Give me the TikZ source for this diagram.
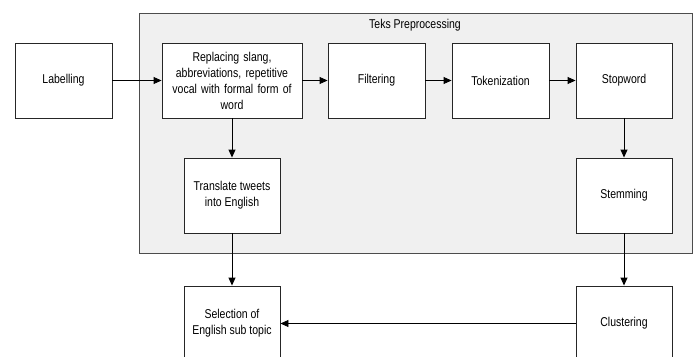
\documentclass[tikz,border=0pt]{standalone}
\usepackage{fontspec}
\setmainfont{Liberation Sans}[FakeStretch=0.82]
\usetikzlibrary{arrows.meta}
\begin{document}
\begin{tikzpicture}[x=1pt,y=-1pt,
  box/.style={draw=black!85,line width=0.9pt,fill=white,minimum height=75pt,align=center,
    font=\fontsize{12.8}{16}\selectfont,inner sep=2pt},
  arr/.style={-{Triangle[length=8pt,width=7pt]},line width=0.9pt}]
\clip (0,0) rectangle (695,356);
\useasboundingbox (0,0) rectangle (695,356);
\node[draw=black!70,line width=1pt,fill=black!6,minimum width=553pt,minimum height=240pt,anchor=north west] (cont) at (139,13) {};
\node[font=\fontsize{12.8}{15}\selectfont] (title) at (415,25) {Teks Preprocessing};
\node[box,minimum width=97pt] (label) at (63.5,80.5) {Labelling};
\node[box,minimum width=140pt,text width=136pt] (repl) at (232,80.5) {Replacing slang,\\abbreviations, repetitive\\vocal with formal form of\\word};
\node[box,minimum width=97pt] (filt) at (376.5,80.5) {Filtering};
\node[box,minimum width=97pt] (tok) at (500.5,80.5) {Tokenization};
\node[box,minimum width=96pt] (stop) at (624,80.5) {Stopword};
\node[box,minimum width=96pt] (trans) at (232,195.5) {Translate tweets\\into English};
\node[box,minimum width=96pt] (stem) at (624,195.5) {Stemming};
\node[box,minimum width=96pt] (sel) at (232,323.5) {Selection of\\English sub topic};
\node[box,minimum width=96pt] (clu) at (624,323.5) {Clustering};
\draw[arr] (label) -- (repl);
\draw[arr] (repl) -- (filt);
\draw[arr] (filt) -- (tok);
\draw[arr] (tok) -- (stop);
\draw[arr] (repl) -- (trans);
\draw[arr] (stop) -- (stem);
\draw[arr] (trans) -- (sel);
\draw[arr] (stem) -- (clu);
\draw[arr] (clu) -- (sel);
\end{tikzpicture}
\end{document}
